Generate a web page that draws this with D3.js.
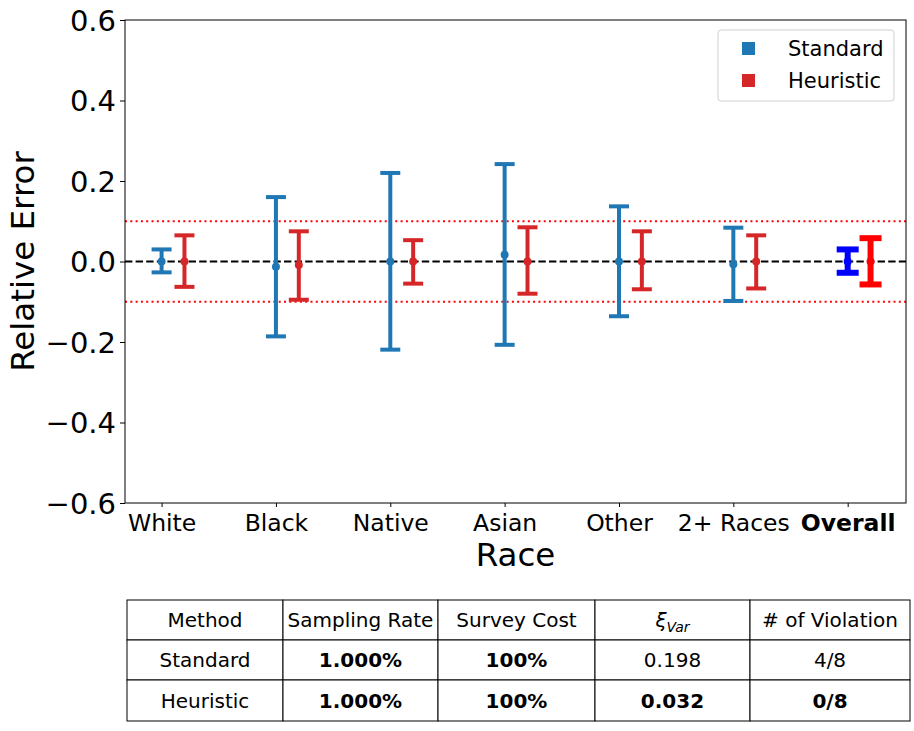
<!DOCTYPE html>
<html>
<head>
<meta charset="utf-8">
<script src="https://cdn.jsdelivr.net/npm/d3@7"></script>
<style>
  body { margin: 0; background: #fff; }
  svg, svg text { font-family: 'DejaVu Sans', sans-serif; }
</style>
</head>
<body>
<div id="chart-container"></div>
<script>
(function () {
    'use strict';

    var categories = ['White', 'Black', 'Native', 'Asian', 'Other', '2+ Races', 'Overall'];
    // standard method: center, lower, upper
    var stdMid = [0.0, -0.013, 0.0, 0.017, 0.0, -0.007, 0.0];
    var stdLow = [-0.027, -0.186, -0.219, -0.207, -0.136, -0.098, -0.028];
    var stdHigh = [0.030, 0.160, 0.220, 0.242, 0.137, 0.084, 0.030];
    // heuristic method
    var heuMid = [0.0, -0.009, 0.0, 0.0, 0.0, 0.0, 0.0];
    var heuLow = [-0.063, -0.095, -0.055, -0.080, -0.069, -0.067, -0.057];
    var heuHigh = [0.065, 0.075, 0.053, 0.085, 0.075, 0.065, 0.058];
    var yTicks = [-0.6, -0.4, -0.2, 0.0, 0.2, 0.4, 0.6];
    var thresholds = [0.1, -0.1];

    var tableHeader = ['Method', 'Sampling Rate', 'Survey Cost', 'xi', '# of Violation'];
    var tableRows = [
        ['Standard', '1.000%', '100%', '0.198', '4/8'],
        ['Heuristic', '1.000%', '100%', '0.032', '0/8']
    ];
    var tableBold = [
        [false, true, true, false, false],
        [false, true, true, true, true]
    ];

    var width = 914;
    var height = 731;
    var left = 125, right = 906, top = 20, bottom = 503;

    var svg = d3.select('#chart-container')
        .append('svg')
        .attr('width', width)
        .attr('height', height);

    var x = d3.scaleLinear().domain([-0.32, 6.51]).range([left, right]);
    var y = d3.scaleLinear().domain([-0.6, 0.6]).range([bottom, top]);

    // reference lines
    svg.selectAll('.thr')
        .data(thresholds)
        .enter()
        .append('line')
        .attr('x1', left).attr('x2', right)
        .attr('y1', function (d) { return y(d); })
        .attr('y2', function (d) { return y(d); })
        .style('stroke', '#ff0000')
        .style('stroke-width', 2)
        .style('stroke-dasharray', '2,3.3');

    svg.append('line')
        .attr('x1', left).attr('x2', right)
        .attr('y1', y(0)).attr('y2', y(0))
        .style('stroke', '#000')
        .style('stroke-width', 2)
        .style('stroke-dasharray', '7.4,3.2');

    function drawBars(mid, low, high, offset, color, overallColor) {
        var data = categories.map(function (c, i) {
            return { i: i, mid: mid[i], low: low[i], high: high[i], overall: c === 'Overall' };
        });
        var g = svg.append('g');
        var bars = g.selectAll('g').data(data).enter().append('g');
        bars.each(function (d) {
            var sel = d3.select(this);
            var cx = x(d.i + offset);
            var col = d.overall ? overallColor : color;
            var lw = d.overall ? 6 : 4;
            var cap = d.overall ? 11 : 10;
            sel.append('line')
                .attr('x1', cx).attr('x2', cx)
                .attr('y1', y(d.low)).attr('y2', y(d.high))
                .style('stroke', col).style('stroke-width', lw);
            [d.low, d.high].forEach(function (v) {
                sel.append('line')
                    .attr('x1', cx - cap).attr('x2', cx + cap)
                    .attr('y1', y(v)).attr('y2', y(v))
                    .style('stroke', col).style('stroke-width', lw);
            });
            sel.append('circle')
                .attr('cx', cx).attr('cy', y(d.mid))
                .attr('r', 4)
                .style('fill', col);
        });
    }

    drawBars(stdMid, stdLow, stdHigh, 0, '#1f77b4', '#0000ff');
    drawBars(heuMid, heuLow, heuHigh, 0.2, '#d62728', '#ff0000');

    // frame
    svg.append('rect')
        .attr('x', left).attr('y', top)
        .attr('width', right - left).attr('height', bottom - top)
        .style('fill', 'none').style('stroke', '#000').style('stroke-width', 1);

    // y axis
    var yAxis = svg.append('g')
        .attr('transform', 'translate(' + left + ',0)')
        .call(d3.axisLeft(y).tickValues(yTicks).tickSize(5).tickPadding(4)
            .tickFormat(function (d) { return d3.format('.1f')(d).replace('-', '\u2212'); }));
    yAxis.attr('font-family', null);
    yAxis.select('.domain').remove();
    yAxis.selectAll('text').style('font-size', '29px').style('fill', '#000')
        .attr('dy', '0.36em');

    // x axis
    var xAxis = svg.append('g')
        .attr('transform', 'translate(0,' + bottom + ')')
        .call(d3.axisBottom(x).tickValues(d3.range(categories.length)).tickSize(4).tickPadding(7)
            .tickFormat(function (d) { return categories[d]; }));
    xAxis.attr('font-family', null);
    xAxis.select('.domain').remove();
    xAxis.selectAll('text')
        .style('font-size', '23.5px').style('fill', '#000')
        .style('font-weight', function (d) { return categories[d] === 'Overall' ? 'bold' : 'normal'; });

    svg.append('text')
        .attr('x', (left + right) / 2).attr('y', 566)
        .attr('text-anchor', 'middle')
        .style('font-size', '32.5px')
        .text('Race');

    svg.append('text')
        .attr('transform', 'translate(34,' + ((top + bottom) / 2) + ') rotate(-90)')
        .attr('text-anchor', 'middle')
        .style('font-size', '32.5px')
        .text('Relative Error');

    // legend
    var lg = svg.append('g');
    lg.append('rect')
        .attr('x', 718).attr('y', 30).attr('width', 176).attr('height', 71)
        .attr('rx', 3)
        .style('fill', '#fff').style('stroke', '#d0d0d0').style('stroke-width', 1);
    [['Standard', '#1f77b4'], ['Heuristic', '#d62728']].forEach(function (item, i) {
        var cy = 48 + i * 32;
        lg.append('rect')
            .attr('x', 742).attr('y', cy - 6).attr('width', 13).attr('height', 13)
            .style('fill', item[1]);
        lg.append('text')
            .attr('x', 788).attr('y', cy).attr('dy', '0.36em')
            .style('font-size', '21px')
            .text(item[0]);
    });

    // table
    var colEdges = [127, 283, 438, 595, 750, 910];
    var rowEdges = [600, 640, 680, 721];
    var tg = svg.append('g');
    var allRows = [tableHeader].concat(tableRows);
    allRows.forEach(function (row, r) {
        row.forEach(function (cell, c) {
            tg.append('rect')
                .attr('x', colEdges[c]).attr('y', rowEdges[r])
                .attr('width', colEdges[c + 1] - colEdges[c])
                .attr('height', rowEdges[r + 1] - rowEdges[r])
                .style('fill', '#fff').style('stroke', '#000').style('stroke-width', 1);
            var t = tg.append('text')
                .attr('x', (colEdges[c] + colEdges[c + 1]) / 2)
                .attr('y', (rowEdges[r] + rowEdges[r + 1]) / 2)
                .attr('dy', '0.36em')
                .attr('text-anchor', 'middle')
                .style('font-size', '20px');
            if (r === 0 && cell === 'xi') {
                t.style('font-style', 'italic');
                t.append('tspan').text('\u03be');
                t.append('tspan').attr('dy', '5').style('font-size', '14px').text('Var');
            } else {
                t.text(cell);
                if (r > 0 && tableBold[r - 1][c]) t.style('font-weight', 'bold');
            }
        });
    });
}());
</script>
</body>
</html>
